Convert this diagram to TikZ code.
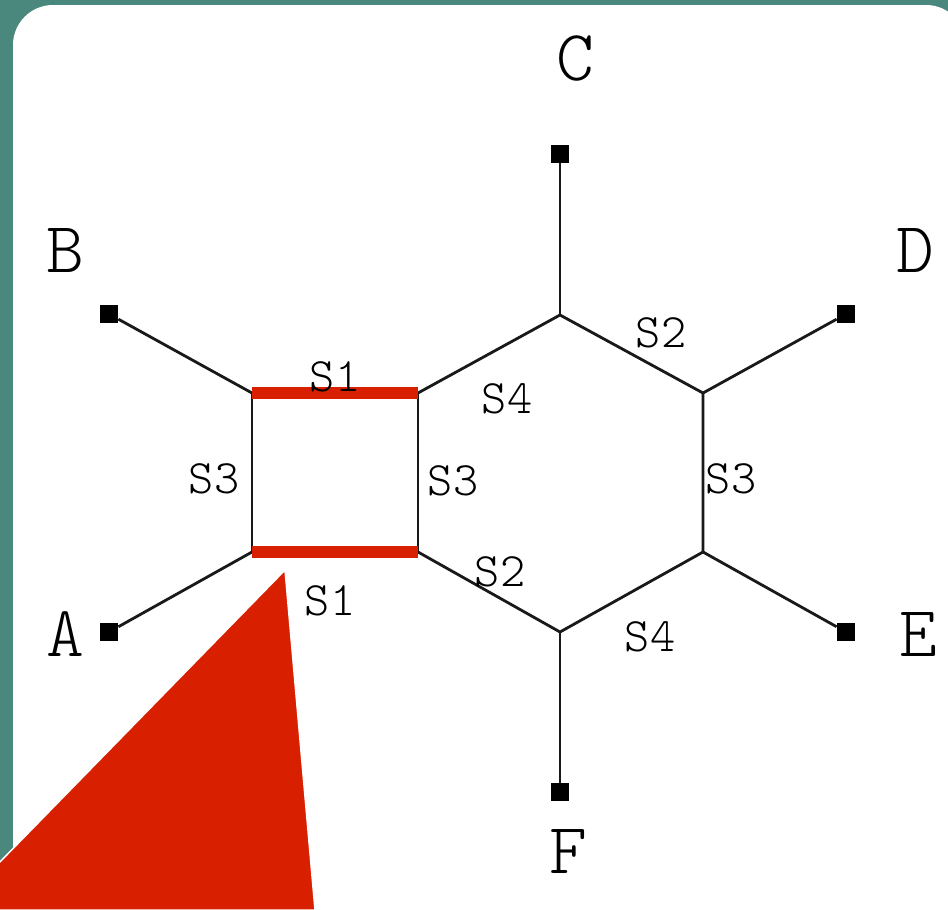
\documentclass[tikz,border=0pt]{standalone}
\usetikzlibrary{positioning}
\definecolor{slideteal}{HTML}{4A877D}
\definecolor{cutred}{HTML}{D82000}
\tikzset{
  bond/.style={line width=1.4pt, black!90},
  cutedge/.style={line width=5.8pt, cutred},
  terminal/.style={rectangle, fill=black, minimum size=9pt, inner sep=0pt},
  portlabel/.style={font=\ttfamily\fontseries{l}\fontsize{36}{36}\selectfont, inner sep=0pt},
  edgelabel/.style={font=\ttfamily\fontseries{l}\fontsize{24}{24}\selectfont, inner sep=0pt},
}
\begin{document}
\begin{tikzpicture}[x=0.5pt, y=-0.5pt]
        \useasboundingbox (0,0) rectangle (948,910);
        \clip (0,0) rectangle (948,910);

        % Slide background
        \fill[slideteal] (0,0) rectangle (948,910);
        \fill[white, rounded corners=20pt] (13,5) rectangle (966,980);

        % Corners of the square and the hexagon
        \coordinate (qUL) at (252,393);
        \coordinate (qLL) at (252,552);
        \coordinate (hUL) at (418,393);
        \coordinate (hLL) at (418,552);
        \coordinate (hT)  at (560,315);
        \coordinate (hUR) at (703,393);
        \coordinate (hLR) at (703,552);
        \coordinate (hB)  at (560,632);

        % Terminals
        \node[terminal] (tA) at (109,632) {};
        \node[terminal] (tB) at (109,314) {};
        \node[terminal] (tC) at (560,154) {};
        \node[terminal] (tD) at (846,314) {};
        \node[terminal] (tE) at (846,632) {};
        \node[terminal] (tF) at (560,792) {};

        % Terminal names
        \node[portlabel] (nA) at (65,634) {A};
        \node[portlabel] (nB) at (65,251) {B};
        \node[portlabel] (nC) at (575,59) {C};
        \node[portlabel] (nD) at (915,251) {D};
        \node[portlabel] (nE) at (918,634) {E};
        \node[portlabel] (nF) at (568,851) {F};

        % Bonds
        \draw[bond] (qUL) -- (qLL);
        \draw[bond] (hUL) -- (hLL);
        \draw[bond] (hUL) -- (hT) -- (hUR) -- (hLR) -- (hB) -- (hLL);
        \draw[bond] (tA) -- (qLL);
        \draw[bond] (tB) -- (qUL);
        \draw[bond] (tC) -- (hT);
        \draw[bond] (tD) -- (hUR);
        \draw[bond] (tE) -- (hLR);
        \draw[bond] (tF) -- (hB);

        % Cut edges of the square
        \draw[cutedge] (qUL) -- (hUL);
        \draw[cutedge] (qLL) -- (hLL);

        % Edge labels
        \node[edgelabel] (sTop)  at (335,377) {S1};
        \node[edgelabel] (sBot)  at (330,601) {S1};
        \node[edgelabel] (sLeft) at (214,479) {S3};
        \node[edgelabel] (sMid)  at (453,481) {S3};
        \node[edgelabel] (sHUL)  at (507,399) {S4};
        \node[edgelabel] (sHUR)  at (661,333) {S2};
        \node[edgelabel] (sHR)   at (731,479) {S3};
        \node[edgelabel] (sHLL)  at (500,572) {S2};
        \node[edgelabel] (sHLR)  at (650,637) {S4};

        % Pointer
        \fill[cutred, draw=white, line width=0.75pt] (285,570) -- (-47,910) -- (315,910) -- cycle;
    \end{tikzpicture}
\end{document}
